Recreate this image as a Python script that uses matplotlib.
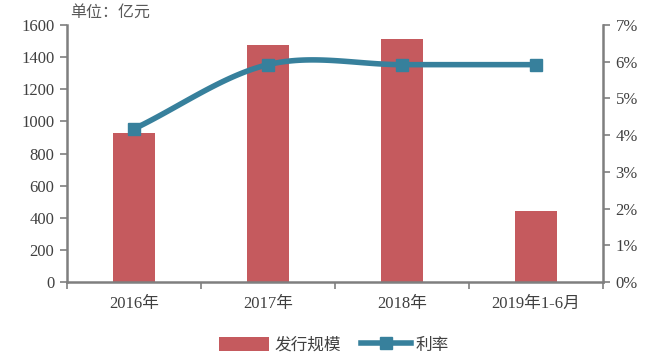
import numpy as np
import matplotlib
matplotlib.use("Agg")
import matplotlib.pyplot as plt
from matplotlib.lines import Line2D
from matplotlib.patches import Patch

categories = ["2016年", "2017年", "2018年", "2019年1-6月"]
issue_size = [928, 1476, 1513, 442]
rate_pct = [4.17, 5.92, 5.92, 5.92]
y_left_ticks = [0, 200, 400, 600, 800, 1000, 1200, 1400, 1600]
y_right_ticks = [0, 1, 2, 3, 4, 5, 6, 7]

bar_color = "#C55A5E"
line_color = "#37809C"
axis_gray = "#7F7F7F"
text_color = "#404040"
fam = ["Liberation Serif", "Noto Sans CJK SC"]

fig = plt.figure(figsize=(6.68, 3.59), dpi=100)
ax = fig.add_axes([67/668, 77/359, 536/668, 257/359])
x = np.arange(len(categories))
ax.bar(x, issue_size, width=0.32, color=bar_color, zorder=2)
ax.set_xlim(-0.5, len(categories) - 0.5)
ax.set_ylim(0, 1600)
ax.set_yticks(y_left_ticks)
ax.set_yticklabels([str(v) for v in y_left_ticks], family=fam, fontsize=12, color=text_color)
ax.set_xticks(np.arange(-0.5, len(categories)), minor=False)
ax.set_xticklabels([])
ax.set_xticks(x, minor=True)
ax.set_xticklabels(categories, minor=True, family=fam, fontsize=12, color=text_color)
ax.tick_params(axis="x", which="major", direction="out", length=5, color=axis_gray, width=1.2)
ax.tick_params(axis="x", which="minor", length=0, pad=10)
ax.tick_params(axis="y", direction="out", length=5, color=axis_gray, width=1.2, pad=4)
for s in ["top", "right"]:
    ax.spines[s].set_visible(False)
for s in ["left", "bottom"]:
    ax.spines[s].set_color(axis_gray)
    ax.spines[s].set_linewidth(1.8)

ax2 = ax.twinx()
ax2.set_ylim(0, 7)
ax2.set_yticks(y_right_ticks)
ax2.set_yticklabels([f"{v}%" for v in y_right_ticks], family=fam, fontsize=12, color=text_color)
ax2.tick_params(axis="y", direction="out", length=5, color=axis_gray, width=1.2, pad=4)
for s in ["top", "left", "bottom"]:
    ax2.spines[s].set_visible(False)
ax2.spines["right"].set_color(axis_gray)
ax2.spines["right"].set_linewidth(1.8)

# smooth curve (Catmull-Rom) through points
px = x.astype(float)
py = np.array(rate_pct, dtype=float)
P = np.column_stack([px, py])
Pext = np.vstack([P[0] - (P[1] - P[0]), P, P[-1] + (P[-1] - P[-2])])
curve = []
for i in range(1, len(Pext) - 2):
    p0, p1, p2, p3 = Pext[i-1], Pext[i], Pext[i+1], Pext[i+2]
    t = np.linspace(0, 1, 40)[:, None]
    c = 0.5 * ((2*p1) + (-p0 + p2)*t + (2*p0 - 5*p1 + 4*p2 - p3)*t**2 + (-p0 + 3*p1 - 3*p2 + p3)*t**3)
    curve.append(c)
curve = np.vstack(curve)
ax2.plot(curve[:, 0], curve[:, 1], color=line_color, lw=4, zorder=3, solid_capstyle="round")
ax2.plot(px, py, ls="none", marker="s", ms=9, color=line_color, zorder=4)

fig.text(70/668, 1 - 12/359, "单位：亿元", family=["Noto Sans CJK SC"], fontsize=11.5,
         color="#595959", va="center", ha="left")

handles = [Patch(facecolor=bar_color, edgecolor="none"),
           Line2D([0], [0], color=line_color, lw=4, marker="s", ms=8)]
fig.legend(handles, ["发行规模", "利率"], loc="center", bbox_to_anchor=(0.5, 1 - 345/359 + 0.0),
           ncol=2, frameon=False, prop={"family": ["Noto Sans CJK SC"], "size": 12},
           handlelength=3, handleheight=0.9, columnspacing=1.2, handletextpad=0.3,
           labelcolor=text_color)

fig.savefig("out.png", dpi=100, facecolor="white")
